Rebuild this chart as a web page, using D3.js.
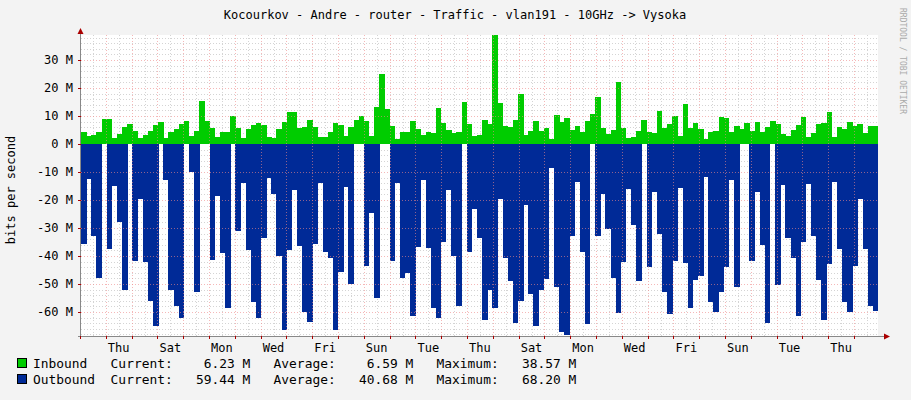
<!DOCTYPE html>
<html><head><meta charset="utf-8">
<script src="https://cdn.jsdelivr.net/npm/d3@7"></script>
<style>body{margin:0;background:#f3f3f3}svg{display:block}text{font-family:"DejaVu Sans Mono",monospace}</style>
</head><body><svg id="c" width="911" height="400"></svg>
<script>
const inbound=[4.2,3,3.2,4.2,8.9,8.9,2.1,3.6,6,7.1,4.5,2.1,3.2,4.5,6.8,7.7,2.1,4.2,5.4,7.1,8.1,2.7,4.8,15.5,8.1,5.7,2.4,4.2,4.2,9.9,5.7,2.1,5.4,6.8,7.4,6.9,2.6,2.1,5.4,7.7,
11.3,11.3,5.7,6.2,8.6,6.2,2.4,2.4,4.2,7.4,6.8,2.7,6,8.7,9.9,8.1,2.7,13.3,25,12.5,6.5,1.8,4.2,4.2,8.1,5.4,3.2,4.2,3.9,12.7,7.4,5,3.9,4.2,14.9,7.1,2.7,3.2,8.6,7.1,
38.9,14.6,6.5,6.2,8.6,17.9,3.2,4.5,8.1,4.5,5.7,1.8,10.4,8,9.3,5.1,6.4,4.2,8.1,10.7,16.7,5.7,3.6,5,22,5.7,2,2.6,4.5,8.6,4.4,3.9,11.7,5.7,7.1,9.9,3,14.3,5.7,7.4,
5.4,1.8,4.2,4.5,9.5,9.2,4.2,6.3,5.4,7.4,4.8,7.7,4.2,6,8.1,7.1,3.6,3,5,6.8,9.5,2.6,3.8,7.1,7.4,11.3,2.6,6,5.4,7.7,6.3,7.1,3.9,6.3,6.3];
const outbound=[35.7,12.5,32.7,48,0,37.5,14.9,27.7,52,0,41.7,19.6,42,56,65,0,13,52,57.7,62,0,9.9,52.7,0,0,41.3,18.5,39,58.7,0,31,13.9,37.7,56.5,62,33.5,12,17.7,40,66.5,
38,16.4,36.3,59.9,63.7,35.7,13.9,38.5,40.8,66.3,45.6,15.4,50,0,0,43.5,24.5,55,0,0,41.7,13.9,48,46,61.3,36.7,12.9,37.3,58.5,62.3,34.9,16.4,39.9,57.7,0,38.7,23.2,33.7,62.7,52,
58.5,19.6,40.6,48.8,64,56,21.8,53.6,64.9,52,48.2,8.6,51.2,67,68.2,33,13.7,38.5,64.3,0,32.7,17.9,30.4,47.7,60.4,42,16,28.8,48.8,0,43.8,17.3,32,52.7,60.7,41.7,15.8,42.5,58.7,
48.5,47,11.9,56.3,60,53,43.8,12.9,51,0,0,41.7,17.3,36,64,0,50.2,14.6,33.6,40.6,61.3,35.1,14.3,32.7,48.5,63,42.9,13.7,37.5,56.3,59.9,43.7,19.6,37.5,57.7,59.5];
const yTicks=[30,20,10,0,-10,-20,-30,-40,-50,-60];
const dayLabels=["Thu","Sat","Mon","Wed","Fri","Sun","Tue","Thu","Sat","Mon","Wed","Fri","Sun","Tue","Thu"];
const legend=[["Inbound ","6.23 M","6.59 M","38.57 M","#00cc00"],["Outbound","59.44 M","40.68 M","68.20 M","#002a97"]];

const svg=d3.select("#c");
const L=81,R=878,T=35,B=336;
const y=d3.scaleLinear().domain([-68.57,38.9]).range([B,T]);
const xd=d3.scaleLinear().domain([0,31]).range([80,80+25.8*31]);
svg.append("rect").attr("x",L).attr("y",T).attr("width",R-L).attr("height",B-T).attr("fill","#fff");
const g=svg.append("g");
for(let v=-68;v<=38;v+=2){ if(v%10===0)continue; g.append("line").attr("x1",L).attr("x2",R).attr("y1",Math.round(y(v))+.5).attr("y2",Math.round(y(v))+.5).attr("stroke","#d4d4d4").attr("stroke-dasharray","1,2");}
for(let d=0;d<31;d++){const xx=Math.round(xd(d+0.5))+.5; if(xx<R) g.append("line").attr("x1",xx).attr("x2",xx).attr("y1",T).attr("y2",B).attr("stroke","#d4d4d4").attr("stroke-dasharray","1,2");}
function bars(arr,sign,color){const xs=d3.scaleLinear().domain([0,arr.length]).range([L,R]);
 g.append("g").selectAll("rect").data(arr).join("rect").attr("x",(d,i)=>xs(i)).attr("width",(d,i)=>xs(i+1)-xs(i)+0.4)
 .attr("y",d=>sign>0?y(d):y(0)).attr("height",d=>Math.abs(y(d*sign)-y(0))).attr("fill",color).attr("shape-rendering","crispEdges");}
bars(outbound,-1,"#002a97");bars(inbound,1,"#00cc00");
yTicks.forEach(v=>{if(v===0)return;g.append("line").attr("x1",L).attr("x2",R).attr("y1",Math.round(y(v))+.5).attr("y2",Math.round(y(v))+.5).attr("stroke","#e88").attr("stroke-opacity",.6).attr("stroke-dasharray","1,2");});
for(let d=1;d<31;d++){const xx=Math.round(xd(d))+.5; if(xx<R) g.append("line").attr("x1",xx).attr("x2",xx).attr("y1",T).attr("y2",B).attr("stroke","#e88").attr("stroke-opacity",.6).attr("stroke-dasharray","1,2");}
const ax=svg.append("g").attr("stroke","#888");
ax.append("line").attr("x1",L-0.5).attr("x2",L-0.5).attr("y1",30).attr("y2",B+3);
ax.append("line").attr("x1",L-3).attr("x2",886).attr("y1",B+0.5).attr("y2",B+0.5);
svg.append("path").attr("d",`M${L-3.5},34 L${L-0.5},28 L${L+2.5},34Z`).attr("fill","#a00");
svg.append("path").attr("d",`M884,${B-2.5} L890,${B+0.5} L884,${B+3.5}Z`).attr("fill","#a00");
yTicks.forEach(v=>{ax.append("line").attr("x1",L-3).attr("x2",L).attr("y1",Math.round(y(v))+.5).attr("y2",Math.round(y(v))+.5).attr("stroke","#a00");
 svg.append("text").attr("x",73).attr("y",y(v)+4).attr("text-anchor","end").attr("font-size",12).attr("fill","#000").text(v+" M");});
for(let d=0;d<31;d++){const xx=Math.round(xd(d))+.5; if(xx<R) ax.append("line").attr("x1",xx).attr("x2",xx).attr("y1",B).attr("y2",B+3).attr("stroke","#a00");}
dayLabels.forEach((t,i)=>svg.append("text").attr("x",xd(1.5+2*i)).attr("y",352).attr("text-anchor","middle").attr("font-size",12).text(t));
svg.append("text").attr("x",455).attr("y",19).attr("text-anchor","middle").attr("font-size",12).text("Kocourkov - Andre - router - Traffic - vlan191 - 10GHz -> Vysoka");
svg.append("text").attr("transform","translate(15,190) rotate(-90)").attr("text-anchor","middle").attr("font-size",12).text("bits per second");
svg.append("text").attr("transform","translate(900,8) rotate(90)").attr("font-size",8).attr("fill","#aaa").text("RRDTOOL / TOBI OETIKER");
legend.forEach((l,i)=>{const yy=368+16*i;
 svg.append("rect").attr("x",17.5).attr("y",yy-9.5).attr("width",9).attr("height",9).attr("fill",l[4]).attr("stroke","#000");
 const s=`${l[0]}  Current:${l[1].padStart(10)}   Average:${l[2].padStart(10)}   Maximum:${l[3].padStart(10)}`;
 svg.append("text").attr("x",33).attr("y",yy).attr("font-size",12.9).attr("xml:space","preserve").style("white-space","pre").text(s);});
</script></body></html>
